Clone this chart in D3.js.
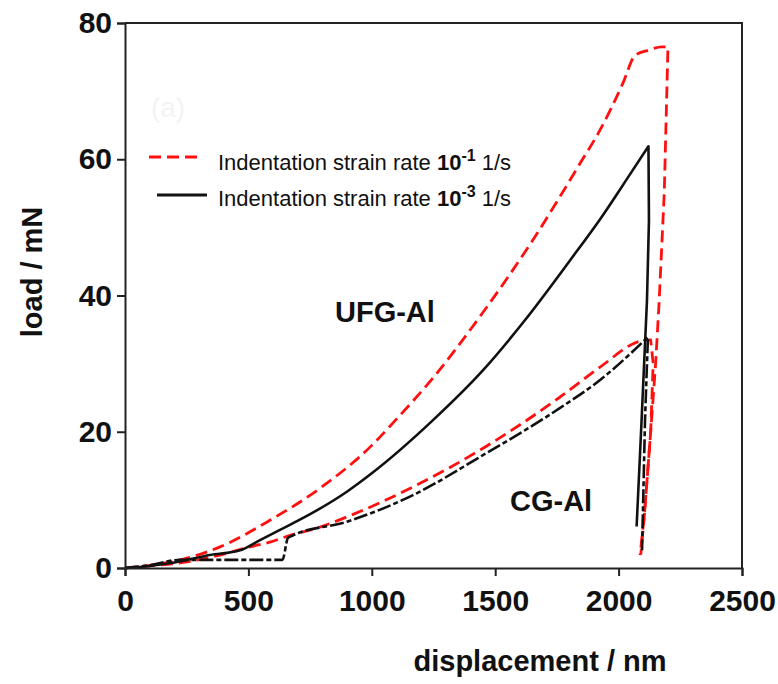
<!DOCTYPE html>
<html>
<head>
<meta charset="utf-8">
<script src="https://cdn.jsdelivr.net/npm/d3@7"></script>
<style>
  html, body { margin: 0; padding: 0; background: #fff; }
  svg { display: block; font-family: "Liberation Sans", Arial, sans-serif; }
</style>
</head>
<body>
<svg id="chart" width="778" height="684"></svg>
<script>
// Axis ticks
const xTicks = [0, 500, 1000, 1500, 2000, 2500];
const yTicks = [0, 20, 40, 60, 80];

// UFG-Al, strain rate 1e-1 1/s (loading + unloading)
const ufgFastDisp = [0, 100, 200, 385, 587, 790, 1000, 1086, 1250, 1450, 1650, 1844, 1925, 2018, 2066, 2120, 2176, 2200, 2185, 2164, 2150, 2130, 2105, 2087];
const ufgFastLoad = [0, 0.4, 1.0, 3.1, 7.0, 11.7, 18.0, 21.3, 28.0, 37.5, 48.0, 59.4, 64.3, 71.2, 75.2, 76.0, 76.5, 76.5, 55.0, 38.9, 30.0, 20.0, 8.0, 1.9];

// UFG-Al, strain rate 1e-3 1/s
const ufgSlowDisp = [0, 100, 200, 344, 466, 547, 628, 750, 899, 1000, 1248, 1450, 1621, 1800, 1925, 2050, 2121, 2123, 2115, 2091, 2073];
const ufgSlowLoad = [0, 0.3, 0.8, 1.9, 2.6, 4.1, 5.6, 7.9, 11.2, 13.9, 21.7, 29.0, 36.4, 45.0, 51.2, 58.0, 61.9, 51.0, 39.3, 20.0, 6.1];

// CG-Al, strain rate 1e-1 1/s
const cgFastDisp = [0, 100, 251, 385, 506, 587, 669, 790, 899, 1167, 1438, 1763, 1925, 2087, 2130, 2140, 2130, 2105, 2090];
const cgFastLoad = [0, 0.3, 0.9, 1.9, 3.1, 3.8, 4.8, 6.0, 7.5, 11.9, 17.3, 25.1, 29.5, 33.3, 33.5, 30.0, 20.0, 8.0, 2.0];

// CG-Al, strain rate 1e-3 1/s
const cgSlowDisp = [0, 100, 223, 400, 638, 660, 669, 899, 1167, 1438, 1763, 1925, 2119, 2115, 2107, 2095];
const cgSlowLoad = [0, 0.4, 1.2, 1.2, 1.2, 4.4, 4.6, 6.8, 10.7, 16.3, 23.5, 27.6, 33.9, 30.0, 21.7, 2.6];

const RED = "#ff1010", INK = "#111";
const series = [
  { disp: ufgFastDisp, load: ufgFastLoad, color: RED, dash: "12,6", width: 2.8 },
  { disp: cgFastDisp,  load: cgFastLoad,  color: RED, dash: "12,6", width: 2.8 },
  { disp: cgSlowDisp,  load: cgSlowLoad,  color: INK, dash: "14,3,5,3", width: 2.6 },
  { disp: ufgSlowDisp, load: ufgSlowLoad, color: INK, dash: null, width: 2.6 }
];

const svg = d3.select("#chart");
const margin = { left: 125, right: 36, top: 23, bottom: 116 };
const W = 778, H = 684;
const x = d3.scaleLinear().domain([0, 2500]).range([margin.left, W - margin.right]);
const y = d3.scaleLinear().domain([0, 80]).range([H - margin.bottom, margin.top]);

// faint panel letter
svg.append("text").attr("x", 168).attr("y", 117).attr("text-anchor", "middle")
  .attr("font-size", 28).attr("fill", "#f3f3f3").text("(a)");

// frame: top and right edges
svg.append("path")
  .attr("d", `M${x(0)},${y(80)}H${x(2500)}V${y(0)}`)
  .attr("fill", "none").attr("stroke", "#222").attr("stroke-width", 2);

// curves: smooth loading branch (monotone in displacement), straight unloading branch
const loadingLine = d3.line().x(d => x(d[0])).y(d => y(d[1])).curve(d3.curveMonotoneX);
series.forEach(s => {
  const pts = s.disp.map((d, i) => [d, s.load[i]]);
  const peakLoad = d3.max(s.load);
  let split = 0;
  s.load.forEach((v, i) => { if (v === peakLoad) split = i; });
  const loading = pts.slice(0, split + 1);
  const unloading = pts.slice(split + 1);
  const path = loadingLine(loading) + unloading.map(p => `L${x(p[0])},${y(p[1])}`).join("");
  svg.append("path")
    .attr("d", path)
    .attr("fill", "none")
    .attr("stroke", s.color)
    .attr("stroke-width", s.width)
    .attr("stroke-linejoin", "round")
    .attr("stroke-dasharray", s.dash);
});

// axes
const xAxis = svg.append("g").attr("transform", `translate(0,${y(0)})`)
  .call(d3.axisBottom(x).tickValues(xTicks).tickSize(8).tickPadding(14).tickFormat(d3.format("d")));
const yAxis = svg.append("g").attr("transform", `translate(${x(0)},0)`)
  .call(d3.axisLeft(y).tickValues(yTicks).tickSize(8).tickPadding(5).tickFormat(d3.format("d")));
[xAxis, yAxis].forEach(g => {
  g.select(".domain").attr("stroke", "#222").attr("stroke-width", 2);
  g.selectAll(".tick line").attr("stroke", "#222").attr("stroke-width", 2);
  g.selectAll(".tick text").attr("font-size", 30).attr("font-weight", "bold")
    .attr("fill", "#111").attr("font-family", "'Liberation Sans', Arial, sans-serif");
});

// axis titles
svg.append("text").attr("x", 540).attr("y", 671).attr("text-anchor", "middle")
  .attr("font-size", 29).attr("font-weight", "bold").attr("fill", "#111")
  .text("displacement / nm");
svg.append("text").attr("transform", "translate(42,272) rotate(-90)")
  .attr("text-anchor", "middle")
  .attr("font-size", 29).attr("font-weight", "bold").attr("fill", "#111")
  .text("load / mN");

// curve group labels
svg.append("text").attr("x", 335).attr("y", 322)
  .attr("font-size", 29).attr("font-weight", "bold").attr("fill", "#111").text("UFG-Al");
svg.append("text").attr("x", 510).attr("y", 511)
  .attr("font-size", 29).attr("font-weight", "bold").attr("fill", "#111").text("CG-Al");

// legend
const legendRows = [
  { color: RED, dash: "12,6", x1: 149, x2: 199, yLine: 157, yText: 170, exp: "-1" },
  { color: INK, dash: null, x1: 157, x2: 207, yLine: 195, yText: 206, exp: "-3" }
];
legendRows.forEach(r => {
  svg.append("line").attr("x1", r.x1).attr("x2", r.x2).attr("y1", r.yLine).attr("y2", r.yLine)
    .attr("stroke", r.color).attr("stroke-width", 2.8).attr("stroke-dasharray", r.dash);
  const t = svg.append("text").attr("x", 218).attr("y", r.yText)
    .attr("font-size", 22).attr("fill", "#111");
  t.append("tspan").text("Indentation strain rate ");
  t.append("tspan").attr("font-weight", "bold").text("10");
  t.append("tspan").attr("font-weight", "bold").attr("font-size", 16).attr("dy", -9).text(r.exp);
  t.append("tspan").attr("dy", 9).text(" 1/s");
});
</script>
</body>
</html>
